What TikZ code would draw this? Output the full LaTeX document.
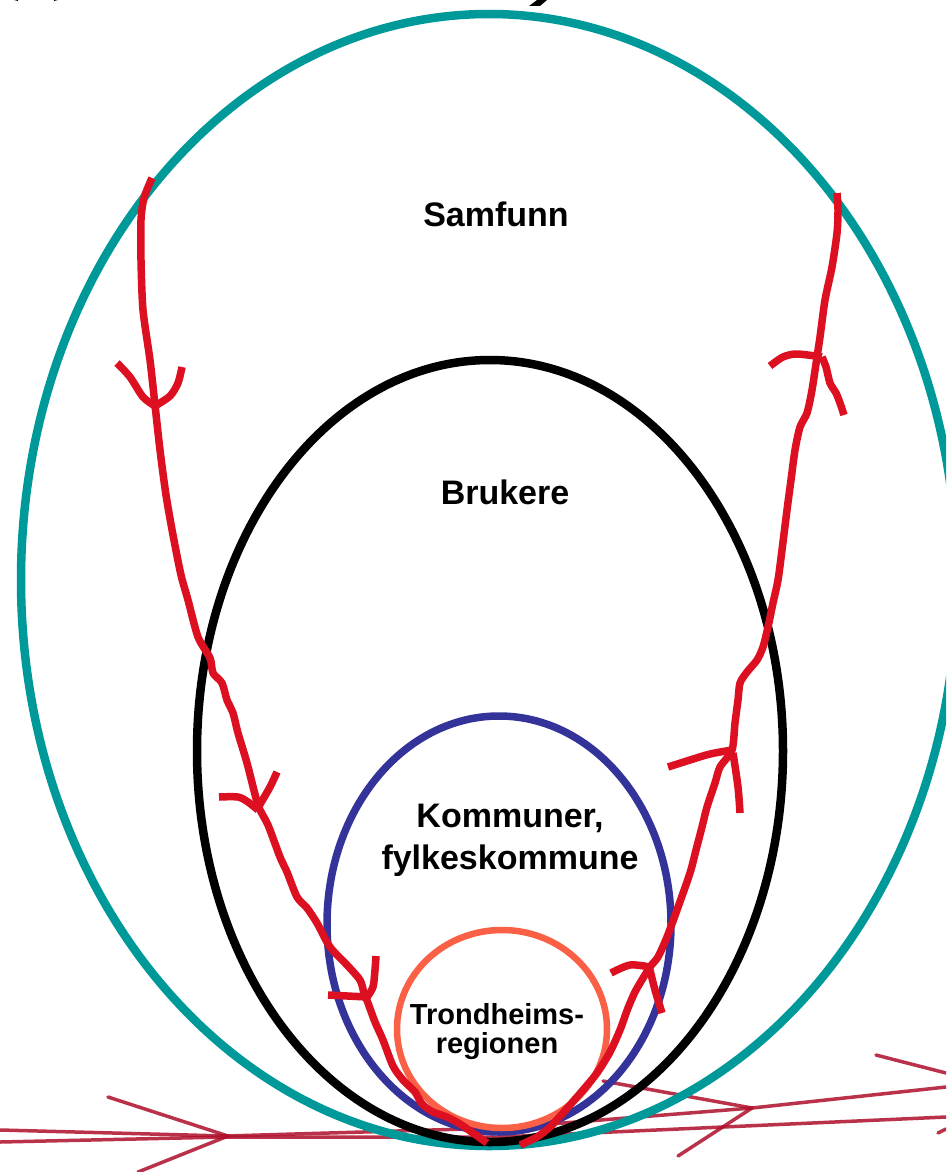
\documentclass[tikz,border=0pt]{standalone}
\usepackage{fontspec}
\setmainfont{Liberation Sans}
\usetikzlibrary{shapes.geometric}
\definecolor{tealc}{RGB}{0,153,153}
\definecolor{bluec}{RGB}{51,51,153}
\definecolor{orangec}{RGB}{250,96,70}
\definecolor{redc}{RGB}{220,16,32}
\definecolor{crimsonc}{RGB}{175,15,42}
\begin{document}
\begin{tikzpicture}[x=1pt,y=-1pt,
  ring/.style={ellipse, inner sep=0pt, outer sep=0pt},
  flow/.style={draw=redc, line width=7.5pt, line join=round, line cap=butt},
  bgarrow/.style={draw=crimsonc, line width=3.5pt, opacity=0.85, line cap=round, line join=round},
  lbl/.style={font=\fontsize{34}{40}\selectfont\bfseries, inner sep=0pt, anchor=base},
  lblsmall/.style={font=\fontsize{29}{29}\selectfont\bfseries, inner sep=0pt, align=center, anchor=base}
]
\useasboundingbox (0,0) rectangle (946,1172);
\clip (0,0) rectangle (946,1172);
\fill[white] (0,0) rectangle (946,1172);

% cut-off title fragments at the top
\draw[black, line width=8pt] (14,0) arc[start angle=180, end angle=360, x radius=22pt, y radius=-9pt];
\fill[black] (537,0) -- (547,0) -- (540,6) -- (529,6) -- cycle;

% background arrows at the bottom
\draw[bgarrow] (0,1130) -- (226,1136) -- (500,1128) -- (752,1108) -- (946,1087);
\draw[bgarrow] (0,1142) -- (226,1137) -- (500,1137) -- (946,1117);
\draw[bgarrow] (108,1097) -- (228,1136) -- (138,1172);
\draw[bgarrow] (603,1081) -- (752,1108) -- (678,1156);
\draw[bgarrow] (876,1055) -- (946,1073);
\draw[bgarrow] (938,1133) -- (946,1129);

% nested ellipses
\node[ring, draw=tealc, line width=8.5pt, minimum width=936pt, minimum height=1132pt] (samfunnring) at (489,580) {};
\node[ring, draw=black, line width=8.5pt, minimum width=586pt, minimum height=782pt] (brukerring) at (490,751) {};
\node[ring, draw=bluec, line width=7.5pt, minimum width=344pt, minimum height=416pt] (kommunering) at (499,924) {};
\node[ring, draw=orangec, line width=6.5pt, minimum width=210pt, minimum height=198pt] (regionring) at (502,1029) {};

% labels
\node[lbl] (samfunn) at (496,226) {Samfunn};
\node[lbl] (brukere) at (505,504) {Brukere};
\node[lbl] (kommuner) at (510,827) {Kommuner,};
\node[lbl] (fylke) at (510,869) {fylkeskommune};
\node[lblsmall] (trond) at (497,1053) {Trondheims-\\regionen};

% left flow (downwards)
\draw[flow] plot[smooth, tension=0.45] coordinates {(152,178) (144,198) (141,220) (141,260) (143,310) (150,360) (155,405) (160,450) (166,495) (173,535) (181,575) (188,600) (198,637) (210,658) (213,673) (222,683) (227,700) (233,713) (238,733) (247,763) (258,805) (268,825) (280,857) (287,872) (297,897) (307,908) (317,923) (330,947) (347,965) (360,980) (364,993) (368,1003) (375,1022) (383,1040) (393,1066) (403,1080) (415,1092) (422,1104) (433,1112) (447,1117) (460,1124) (473,1133) (487,1143)};
\draw[flow] plot[smooth, tension=0.5] coordinates {(117,363) (130,377) (143,397) (155,406)};
\draw[flow] plot[smooth, tension=0.5] coordinates {(182,367) (178,383) (170,396) (155,406)};
\draw[flow] plot[smooth, tension=0.5] coordinates {(219,797) (238,797) (248,802) (258,810)};
\draw[flow] plot[smooth, tension=0.5] coordinates {(277,772) (270,787) (259,806)};
\draw[flow] plot[smooth, tension=0.5] coordinates {(328,995) (367,997)};
\draw[flow] plot[smooth, tension=0.5] coordinates {(376,956) (375,970) (373,987) (367,997)};

% right flow (upwards)
\draw[flow] plot[smooth, tension=0.45] coordinates {(520,1145) (537,1137) (550,1127) (563,1113) (570,1105) (583,1090) (597,1073) (610,1052) (620,1030) (628,1008) (636,990) (650,967) (658,957) (667,937) (677,910) (690,873) (696,850) (702,827) (707,807) (715,783) (720,767) (732,750) (735,723) (738,700) (740,683) (747,672) (757,660) (763,647) (768,627) (773,603) (778,580) (782,550) (787,510) (791,480) (795,450) (800,427) (807,413) (812,390) (817,357) (820,337) (825,300) (832,267) (837,233) (838,210) (837,193)};
\draw[flow] plot[smooth, tension=0.5] coordinates {(611,973) (630,965) (650,967)};
\draw[flow] plot[smooth, tension=0.5] coordinates {(662,1013) (655,990) (650,970)};
\draw[flow] plot[smooth, tension=0.5] coordinates {(668,767) (690,760) (710,754) (732,750)};
\draw[flow] plot[smooth, tension=0.5] coordinates {(740,813) (738,787) (733,753)};
\draw[flow] plot[smooth, tension=0.5] coordinates {(770,366) (783,357) (797,354) (822,357)};
\draw[flow] plot[smooth, tension=0.5] coordinates {(844,415) (840,403) (836,393) (830,383) (826,367) (822,357)};
\end{tikzpicture}
\end{document}
